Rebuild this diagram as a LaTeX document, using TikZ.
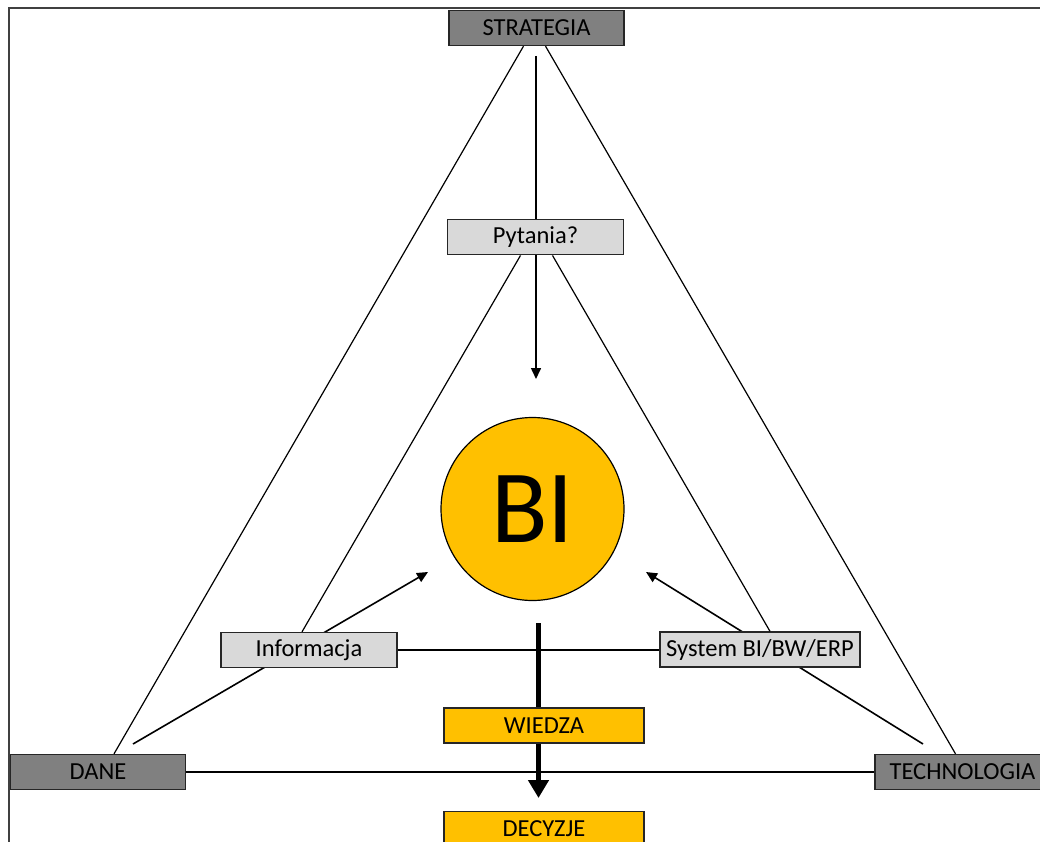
\documentclass[tikz,border=0pt]{standalone}
\usepackage{fontspec}
\setmainfont{Carlito}
\usepackage{tikz}
\usetikzlibrary{arrows.meta,calc,
                shapes,positioning}

\definecolor{BoxGold}{HTML}{FFC000}
\definecolor{BoxDarkGray}{HTML}{808080}
\definecolor{BoxLightGray}{HTML}{D9D9D9}

\begin{document}
\begin{tikzpicture}[x=1pt,y=-1pt]
  \tikzset{BaseNode/.style = {shape = rectangle, draw = black!85, line width = 1.3pt, text = black, font = \fontsize{24.5}{28}\selectfont, minimum height = 35, inner sep = 0pt}};
  \tikzset{DarkNode/.style = {BaseNode, fill = BoxDarkGray, minimum width = 175}};
  \tikzset{LightNode/.style = {BaseNode, fill = BoxLightGray, minimum width = 176}};
  \tikzset{GoldNode/.style = {BaseNode, fill = BoxGold, minimum width = 200}};
  \tikzset{EdgeStyle/.style = {black, line width = 1.2pt}};
  \tikzset{ArrowStyle/.style = {black, line width = 1.6pt, -{Triangle[length=11pt,width=10pt]}}};
  \tikzset{ThickArrowStyle/.style = {black, line width = 5pt, -{Triangle[length=18pt,width=20pt]}}};

  \useasboundingbox (0,0) rectangle (1040,842);
  \draw[black!75, line width = 1.3pt] (9,8) rectangle (1060,860);

  \node[circle, draw = black, line width = 1.2pt, fill = BoxGold, minimum size = 183, inner sep = 0pt, font = \fontsize{104}{110}\selectfont] (bi) at (532.5,509) {BI};

  % free arrows, drawn under the boxes
  \coordinate (question start) at (536,56);
  \coordinate (question tip) at (536,379);
  \coordinate (data start) at (133,744);
  \coordinate (data tip) at (428,572);
  \coordinate (tech start) at (923,744);
  \coordinate (tech tip) at (646,572);
  \draw[ArrowStyle] (question start) to (question tip);
  \draw[ArrowStyle] (data start) to (data tip);
  \draw[ArrowStyle] (tech start) to (tech tip);
  \draw[ThickArrowStyle] ([shift={(6,22)}]bi.south) to ([xshift=6]bi.south |- 0,798);

  \node[DarkNode] (strategia) at (536.5,28) {STRATEGIA};
  \node[LightNode, below = 173pt of strategia, xshift = -1pt] (pytania) {Pytania?};
  \node[LightNode] (informacja) at (309,650) {Informacja};
  \node[LightNode, minimum width = 200] (system) at (760,649.5) {System BI/BW/ERP};
  \node[DarkNode] (dane) at (98,772) {DANE};
  \node[DarkNode] (technologia) at (962.5,772) {TECHNOLOGIA};
  \node[GoldNode] (wiedza) at (544,725.5) {WIEDZA};
  \node[GoldNode, below = 67pt of wiedza] (decyzje) {DECYZJE};

  \draw[EdgeStyle] ([xshift=-13]strategia.south) to ([xshift=16]dane.north);
  \draw[EdgeStyle] ([xshift=9]strategia.south) to ([xshift=-7]technologia.north);
  \draw[EdgeStyle] (dane.east) to (technologia.west);
  \draw[EdgeStyle] ([xshift=-15]pytania.south) to ([xshift=-7]informacja.north);
  \draw[EdgeStyle] ([xshift=17]pytania.south) to ([xshift=10]system.north);
  \draw[EdgeStyle] (informacja.east) to (informacja.east -| system.west);
\end{tikzpicture}
\end{document}
